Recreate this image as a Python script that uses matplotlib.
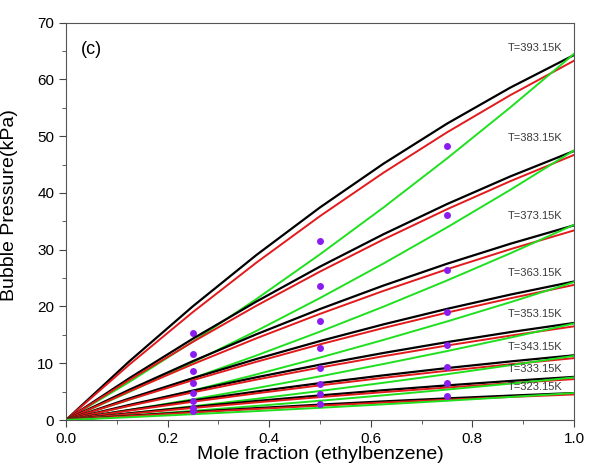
import numpy as np
import matplotlib
matplotlib.use("Agg")
import matplotlib.pyplot as plt
from matplotlib.ticker import MultipleLocator

plt.rcParams['font.family'] = ['Liberation Sans', 'DejaVu Sans']

# mole fraction grid the curves were read at
x = [0, 0.125, 0.25, 0.375, 0.5, 0.625, 0.75, 0.875, 1.0]

temps = ["T=393.15K", "T=383.15K", "T=373.15K", "T=363.15K",
         "T=353.15K", "T=343.15K", "T=333.15K", "T=323.15K"]

# black curves
black = [
    [0, 10.36, 20.05, 29.08, 37.45, 45.16, 52.21, 58.58, 64.3],
    [0, 7.38, 14.34, 20.88, 27.02, 32.73, 38.04, 42.93, 47.4],
    [0, 5.34, 10.38, 15.11, 19.55, 23.69, 27.53, 31.06, 34.3],
    [0, 3.80, 7.38, 10.75, 13.91, 16.85, 19.58, 22.10, 24.4],
    [0, 2.66, 5.17, 7.53, 9.75, 11.81, 13.72, 15.49, 17.1],
    [0, 1.77, 3.45, 5.02, 6.50, 7.87, 9.15, 10.32, 11.4],
    [0, 1.18, 2.30, 3.35, 4.33, 5.25, 6.10, 6.88, 7.6],
    [0, 0.74, 1.44, 2.09, 2.71, 3.28, 3.81, 4.30, 4.75],
]

# red curves
red = [
    [0, 9.78, 19.03, 27.74, 35.92, 43.57, 50.68, 57.25, 63.3],
    [0, 7.06, 13.78, 20.14, 26.15, 31.81, 37.13, 42.09, 46.7],
    [0, 5.05, 9.85, 14.40, 18.70, 22.75, 26.55, 30.10, 33.4],
    [0, 3.60, 7.02, 10.26, 13.33, 16.21, 18.92, 21.45, 23.8],
    [0, 2.50, 4.87, 7.12, 9.24, 11.24, 13.12, 14.87, 16.5],
    [0, 1.65, 3.22, 4.70, 6.10, 7.43, 8.67, 9.82, 10.9],
    [0, 1.09, 2.12, 3.11, 4.03, 4.91, 5.72, 6.49, 7.2],
    [0, 0.68, 1.33, 1.94, 2.52, 3.07, 3.58, 4.06, 4.5],
]

# green curves
green = [
    [0, 6.72, 13.83, 21.32, 29.19, 37.44, 46.08, 55.10, 64.5],
    [0, 4.95, 10.18, 15.70, 21.49, 27.57, 33.93, 40.57, 47.5],
    [0, 3.58, 7.38, 11.37, 15.57, 19.97, 24.58, 29.38, 34.4],
    [0, 2.53, 5.21, 8.03, 11.00, 14.11, 17.36, 20.76, 24.3],
    [0, 1.77, 3.64, 5.62, 7.69, 9.87, 12.14, 14.52, 17.0],
    [0, 1.18, 2.42, 3.73, 5.11, 6.56, 8.07, 9.65, 11.3],
    [0, 0.78, 1.61, 2.48, 3.39, 4.35, 5.36, 6.41, 7.5],
    [0, 0.49, 1.02, 1.57, 2.15, 2.76, 3.39, 4.06, 4.75],
]

# experimental points
x_exp = [0.25, 0.5, 0.75]
p_exp = [
    [15.4, 31.6, 48.3],
    [11.7, 23.6, 36.1],
    [8.7, 17.5, 26.4],
    [6.5, 12.7, 19.0],
    [4.7, 9.1, 13.2],
    [3.3, 6.4, 9.3],
    [2.1, 4.5, 6.5],
    [1.6, 2.9, 4.3],
]

label_y = [65.5, 49.6, 36.0, 25.9, 18.7, 12.9, 9.0, 5.75]

fig = plt.figure(figsize=(5.89, 4.66), dpi=100)
ax = fig.add_axes([0.112, 0.0987, 0.8625, 0.8526])

for i in range(len(temps)):
    ax.plot(x, black[i], color="black", lw=1.6)
    ax.plot(x, red[i], color="#e31a1c", lw=1.4)
    ax.plot(x, green[i], color="#1fe01f", lw=1.4)
    ax.plot(x_exp, p_exp[i], "o", color="#8a1cf0", ms=5, mec="none")
    ax.text(0.977, label_y[i], temps[i], fontsize=8, color="#3a3a3a",
            ha="right", va="center")

ax.text(0.03, 65.3, "(c)", fontsize=13, va="center")

ax.set_xlim(0, 1.0)
ax.set_ylim(0, 70)
ax.xaxis.set_major_locator(MultipleLocator(0.2))
ax.xaxis.set_minor_locator(MultipleLocator(0.1))
ax.yaxis.set_major_locator(MultipleLocator(10))
ax.yaxis.set_minor_locator(MultipleLocator(5))
ax.tick_params(which="both", direction="out", top=False, right=False,
               color="#444444", labelsize=11)
ax.tick_params(which="major", length=5)
ax.tick_params(which="minor", length=3)
for s in ax.spines.values():
    s.set_color("#555555")

ax.set_xlabel("Mole fraction (ethylbenzene)", fontsize=14)
ax.set_ylabel("Bubble Pressure(kPa)", fontsize=14)
ax.xaxis.set_label_coords(0.5, -0.065)
ax.yaxis.set_label_coords(-0.094, 0.54)

fig.savefig("out.png", dpi=100)
